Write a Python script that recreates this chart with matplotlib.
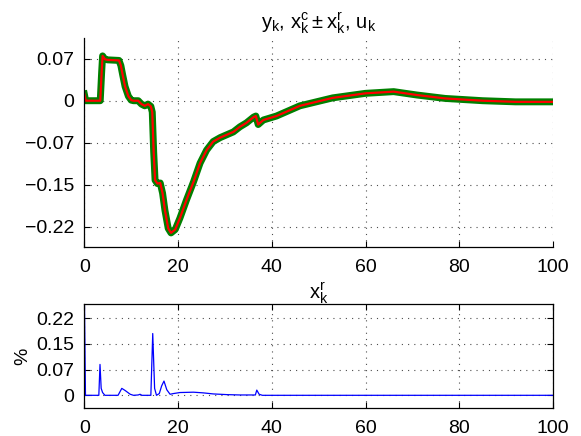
import matplotlib
matplotlib.use("Agg")
import matplotlib.pyplot as plt
import numpy as np

# top plot: estimated state x^c (red) with measurement band (green)
t_top = [0, 0.3, 3.4, 3.7, 3.9, 4.4, 5.0, 7.4, 7.8, 8.2, 8.7, 9.4, 10.0, 10.5, 11.5,
         12.2, 12.9, 13.6, 14.2, 14.5, 14.8, 15.1, 15.6, 16.2, 16.7, 17.2, 17.9,
         18.5, 19.4, 20.4, 21.8, 23.3, 24.7, 26.1, 27.5, 29.0, 30.4, 31.8, 33.2,
         34.6, 36.1, 36.6, 37.1, 38.2, 41, 46, 53, 60, 66, 71, 77, 85, 92, 100]
xc = [0.012, 0.0, 0.0, 0.05, 0.079, 0.073, 0.072, 0.071, 0.062, 0.045, 0.025,
      0.008, 0.001, 0.0, 0.0, -0.006, -0.009, -0.006, -0.010, -0.02, -0.09, -0.14,
      -0.146, -0.145, -0.163, -0.193, -0.225, -0.233, -0.227, -0.207, -0.175,
      -0.143, -0.110, -0.087, -0.072, -0.065, -0.060, -0.055, -0.046, -0.039,
      -0.029, -0.027, -0.042, -0.034, -0.027, -0.009, 0.005, 0.013, 0.016, 0.010,
      0.004, 0.0, -0.002, -0.002]

# bottom plot: x^r in percent
t_bot = [0, 0.25, 3.1, 3.35, 3.6, 3.9, 4.4, 7.2, 8.0, 8.7, 9.8, 10.5, 11.5, 11.9,
         12.3, 14.2, 14.6, 15.0, 15.4, 16.0, 16.5, 17.0, 17.6, 18.3, 19.0, 20.4,
         23.3, 25.4, 27.5, 30.4, 33.2, 36.5, 36.8, 37.3, 38, 100]
xr = [0.30, 0.0, 0.0, 0.089, 0.02, 0.008, 0.0, 0.0, 0.020, 0.014, 0.003, 0.0,
      0.001, 0.003, 0.0, 0.0, 0.178, 0.02, 0.0, 0.005, 0.027, 0.041, 0.016, 0.003,
      0.005, 0.008, 0.009, 0.007, 0.004, 0.002, 0.001, 0.001, 0.015, 0.003, 0.0, 0.0]

top_ticks = [-0.222, -0.148, -0.074, 0, 0.074]
top_labels = ['\u22120.22', '\u22120.15', '\u22120.07', '0', '0.07']
bot_ticks = [0, 0.074, 0.148, 0.222]
bot_labels = ['0', '0.07', '0.15', '0.22']
x_ticks = [0, 20, 40, 60, 80, 100]

plt.rcParams['font.family'] = ['Liberation Sans', 'DejaVu Sans']
plt.rcParams['mathtext.fontset'] = 'custom'
plt.rcParams['mathtext.rm'] = 'Liberation Sans'
plt.rcParams['mathtext.it'] = 'Liberation Sans'
plt.rcParams['font.size'] = 14

grid_style = dict(color='0.3', linestyle=(0, (1, 4.6)), linewidth=0.8)

fig = plt.figure(figsize=(5.81, 4.36), dpi=100)
ax1 = fig.add_axes([0.1451, 0.4346, 0.8067, 0.4782])
ax2 = fig.add_axes([0.1451, 0.0649, 0.8067, 0.2378])

ax1.plot(t_top, xc, color='#008000', linewidth=5, solid_joinstyle='round')
ax1.plot(t_top, xc, color='red', linewidth=1.6)
ax1.set_xlim(0, 100)
ax1.set_ylim(-0.257, 0.1105)
ax1.set_xticks(x_ticks)
ax1.set_yticks(top_ticks)
ax1.set_yticklabels(top_labels)
ax1.spines['top'].set_visible(False)
ax1.spines['right'].set_visible(False)
ax1.tick_params(direction='in', length=4, width=0.8, pad=7)
ax1.tick_params(axis='x', pad=9)
ax1.grid(True, **grid_style)
ax1.set_title(r'$\mathrm{y_k,\,x^c_k \pm x^r_k,\,u_k}$', fontsize=14.5, pad=7)

ax2.plot(t_bot, xr, color='blue', linewidth=0.9)
ax2.set_xlim(0, 100)
ax2.set_ylim(-0.0357, 0.263)
ax2.set_xticks(x_ticks)
ax2.set_yticks(bot_ticks)
ax2.set_yticklabels(bot_labels)
ax2.tick_params(direction='in', length=4, width=0.8, pad=7, top=True, right=True)
ax2.tick_params(axis='x', pad=9)
ax2.grid(True, **grid_style)
ax2.set_title(r'$\mathrm{x^r_k}$', fontsize=14.5, pad=4)
ax2.set_ylabel('%', fontsize=14, labelpad=4)

for ax in (ax1, ax2):
    for sp in ax.spines.values():
        sp.set_linewidth(0.9)

fig.savefig("out.png", dpi=100)
